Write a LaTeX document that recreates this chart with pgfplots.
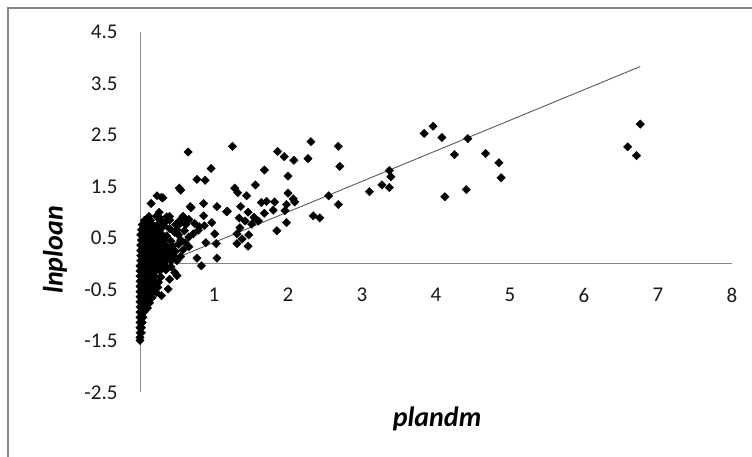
\documentclass[border=0pt]{standalone}
\usepackage{fontspec}
\setmainfont{Carlito}
\usepackage{pgfplots}
\pgfplotsset{compat=1.18}
\definecolor{axgray}{RGB}{134,134,134}
\definecolor{trend}{RGB}{90,90,90}
\newcommand{\tickfont}{\fontsize{21}{21}\selectfont}
\begin{document}
\begin{tikzpicture}[x=1pt,y=1pt]
\path[use as bounding box] (0,0) rectangle (752,457);
\draw[axgray, line width=2pt] (8,0) -- (8,449) -- (752,449);
\begin{axis}[
    at={(140pt,64.5pt)}, anchor=south west,
    scale only axis,
    width=592pt, height=360.5pt,
    xmin=0, xmax=8, ymin=-2.5, ymax=4.5,
    axis lines=middle,
    axis line style={-, axgray, line width=0.9pt},
    xtick={1,2,...,8},
    ytick={-2.5,-1.5,...,4.5},
    major tick length=0pt,
    xticklabel={\tickfont\pgfmathprintnumber[assume math mode=true]{\tick}},
    yticklabel={\tickfont\pgfmathprintnumber[assume math mode=true,fixed,fixed zerofill,precision=1]{\tick}},
    xticklabel style={text=black!90, yshift=-21pt},
    yticklabel style={text=black!90, xshift=-19pt},
    clip=false,
]
% scattered observations
\addplot[only marks, mark=square*, mark size=3pt, mark options={rotate=45, fill=black, draw=black, line width=0.3pt}] coordinates {
(3.10,1.40) (3.27,1.53) (3.37,1.48) (3.37,1.81) (3.39,1.69) (3.84,2.53) (3.96,2.67) (4.08,2.45)
(4.12,1.30) (4.25,2.12) (4.41,1.44) (4.43,2.43) (4.67,2.14) (4.85,1.96) (4.88,1.67)
(6.59,2.27) (6.71,2.10) (6.76,2.71)
(1.25,2.28) (1.86,2.18) (1.95,2.08) (2.08,2.01) (2.31,2.37) (2.27,2.04) (2.68,2.28) (2.70,1.89)
(1.68,1.82) (2.00,1.70) (1.56,1.53) (1.28,1.47) (1.32,1.38) (1.44,1.32) (2.00,1.37) (2.07,1.26)
(2.09,1.20) (2.55,1.32) (2.68,1.15) (1.64,1.19) (1.71,1.21) (1.82,1.20) (1.98,1.15) (1.96,1.03)
(1.80,1.04) (1.68,0.98) (1.18,1.02) (1.36,1.11) (1.46,1.00) (1.34,0.89) (1.42,0.83) (1.54,0.90)
(1.60,0.83) (1.51,0.77) (2.34,0.93) (2.43,0.89) (1.98,0.80) (1.85,0.64) (1.35,0.70) (1.31,0.58)
(1.47,0.56) (1.38,0.48) (1.31,0.39) (1.46,0.34)
(0.65,2.17) (0.96,1.85) (0.77,1.64) (0.88,1.62) (0.53,1.47) (0.55,1.43) (0.23,1.32) (0.31,1.28)
(0.15,1.17) (0.86,1.17) (1.04,1.11) (0.69,1.09) (1.17,1.01) (0.29,1.29)
(0.68,1.11) (0.86,0.93) (0.87,0.74) (0.97,0.80) (1.01,0.58) (1.03,0.39) (1.04,0.11) (0.83,-0.04)
(0.77,0.11) (0.89,0.41) (0.61,0.41) (0.72,0.58) (0.64,0.83) (0.74,0.78) (0.79,0.65) (0.54,0.78)
(0.47,0.61) (0.40,0.85) (0.26,0.90) (0.36,0.91) (0.11,0.80) (0.05,0.45) (0.09,0.58)
(0.47,-0.17) (0.50,-0.23) (0.38,-0.49) (0.29,-0.62) (0.00,-1.43) (0.00,-1.49)
};
% dense cluster near the origin
\addplot[only marks, mark=square*, mark size=3pt, mark options={rotate=45, fill=black, draw=black, line width=0.3pt}] coordinates {
(0.26,1.00)
(0.12,0.92) (0.22,0.92) (0.40,0.92) (0.58,0.92)
(0.06,0.84) (0.14,0.84) (0.28,0.84) (0.36,0.84) (0.54,0.84) (0.66,0.86)
(0.03,0.76) (0.10,0.76) (0.17,0.76) (0.24,0.76) (0.32,0.74) (0.48,0.76) (0.62,0.76) (0.80,0.72)
(0.02,0.66) (0.08,0.66) (0.14,0.66) (0.20,0.66) (0.27,0.66) (0.40,0.68) (0.50,0.66) (0.60,0.64)
(0.01,0.56) (0.06,0.56) (0.12,0.56) (0.18,0.56) (0.24,0.56) (0.30,0.56) (0.36,0.54) (0.52,0.56) (0.66,0.52)
(0.02,0.46) (0.07,0.46) (0.13,0.46) (0.19,0.46) (0.25,0.46) (0.32,0.46) (0.42,0.44) (0.55,0.46)
(0.01,0.36) (0.05,0.36) (0.10,0.36) (0.16,0.36) (0.22,0.36) (0.28,0.36) (0.35,0.36) (0.44,0.34) (0.52,0.38) (0.66,0.33)
(0.01,0.26) (0.05,0.26) (0.10,0.26) (0.15,0.26) (0.21,0.26) (0.27,0.26) (0.33,0.26) (0.40,0.26) (0.48,0.24) (0.58,0.27)
(0.01,0.16) (0.04,0.16) (0.09,0.16) (0.14,0.16) (0.19,0.16) (0.25,0.16) (0.31,0.16) (0.38,0.16) (0.45,0.16) (0.55,0.14)
(0.01,0.06) (0.04,0.06) (0.08,0.06) (0.13,0.06) (0.18,0.06) (0.23,0.06) (0.29,0.06) (0.35,0.06) (0.42,0.06) (0.50,0.06)
(0.00,-0.04) (0.04,-0.04) (0.08,-0.04) (0.12,-0.04) (0.17,-0.04) (0.22,-0.04) (0.28,-0.04) (0.34,-0.04) (0.42,-0.06)
(0.00,-0.14) (0.03,-0.14) (0.07,-0.14) (0.11,-0.14) (0.16,-0.14) (0.21,-0.14) (0.27,-0.14) (0.35,-0.12)
(0.00,-0.24) (0.03,-0.24) (0.06,-0.24) (0.10,-0.24) (0.15,-0.24) (0.20,-0.24) (0.28,-0.26) (0.40,-0.30)
(0.00,-0.34) (0.03,-0.34) (0.06,-0.34) (0.10,-0.34) (0.14,-0.34) (0.19,-0.34) (0.25,-0.36)
(0.00,-0.44) (0.03,-0.44) (0.06,-0.44) (0.09,-0.44) (0.13,-0.44) (0.18,-0.44) (0.24,-0.46)
(0.00,-0.54) (0.02,-0.54) (0.05,-0.54) (0.08,-0.54) (0.12,-0.54) (0.17,-0.54) (0.22,-0.56)
(0.00,-0.64) (0.02,-0.64) (0.05,-0.64) (0.08,-0.64) (0.11,-0.64) (0.16,-0.66)
(0.00,-0.74) (0.02,-0.74) (0.05,-0.74) (0.08,-0.74) (0.13,-0.76)
(0.00,-0.84) (0.02,-0.84) (0.04,-0.84) (0.07,-0.84) (0.10,-0.86)
(0.00,-0.94) (0.02,-0.94) (0.05,-0.94)
(0.00,-1.04) (0.02,-1.04) (0.04,-1.04)
(0.00,-1.14) (0.02,-1.14) (0.03,-1.14)
(0.00,-1.24) (0.02,-1.24)
(0.00,-1.34) (0.02,-1.34)
};
% linear trend line
\addplot[trend, line width=0.9pt] coordinates {(0,-0.18) (6.76,3.83)};
\end{axis}
\node[font=\fontsize{28}{28}\selectfont\bfseries\itshape] at (437,38) {plandm};
\node[font=\fontsize{28}{28}\selectfont\bfseries\itshape, rotate=90] at (55,207) {lnploan};
\end{tikzpicture}
\end{document}
